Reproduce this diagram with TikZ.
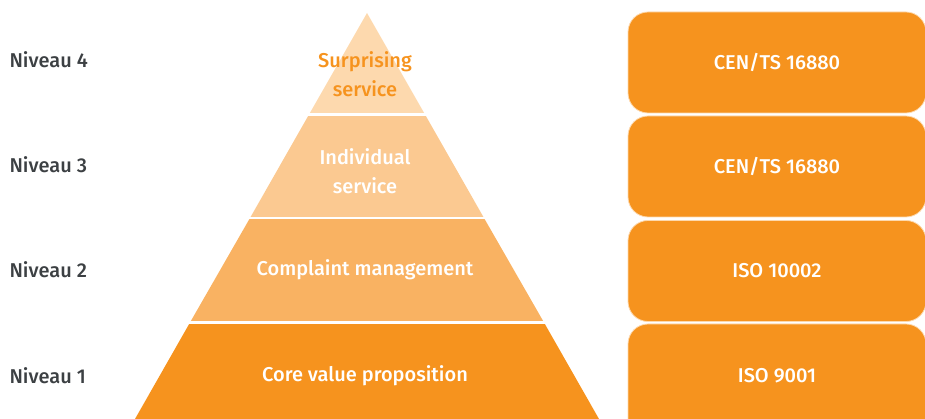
\documentclass[tikz,border=0pt]{standalone}
\usepackage{fontspec}
\setmainfont{Fira Sans}[UprightFont=* Medium]
\definecolor{lvlone}{RGB}{246,147,30}
\definecolor{lvltwo}{RGB}{249,178,98}
\definecolor{lvlthree}{RGB}{251,201,145}
\definecolor{lvlfour}{RGB}{253,217,174}
\definecolor{labelgray}{RGB}{60,64,67}

\begin{document}
\begin{tikzpicture}[x=1pt,y=1pt]

\tikzset{level/.style = {anchor=west,text=labelgray,font=\fontsize{20}{23}\selectfont}}
\tikzset{tier/.style = {align=center,text=white,font=\fontsize{20}{29}\selectfont}}
\tikzset{norm/.style = {shape=rectangle,rounded corners=20pt,fill=lvlone,draw=lvlfour,line width=0.8pt,
  minimum width=298pt,minimum height=101pt,text=white,font=\fontsize{20}{23}\selectfont}}
\clip (0,0) rectangle (925,419);
%pyramid bands
\fill[lvlone] (135,0) -- (599,0) -- (544,96.5) -- (190,96.5) -- cycle;
\fill[lvltwo] (190,96.5) -- (544,96.5) -- (484,201) -- (250,201) -- cycle;
\fill[lvlthree] (250,201) -- (484,201) -- (425,304.5) -- (309,304.5) -- cycle;
\fill[lvlfour] (309,304.5) -- (425,304.5) -- (367,406) -- cycle;
\foreach \y in {96.5,201,304.5}
  \draw[white,line width=2.5pt] (100,\y) -- (620,\y);
%levels
\node[level] (n4) at (6,359) {Niveau 4};
\node[level] (n3) at (6,254) {Niveau 3};
\node[level] (n2) at (6,149) {Niveau 2};
\node[level] (n1) at (6,43) {Niveau 1};
%tiers
\node[tier,text=lvlone] (t4) at (365,345) {Surprising\\service};
\node[tier] (t3) at (365,248) {Individual\\service};
\node[tier] (t2) at (365,149) {Complaint management};
\node[tier] (t1) at (365,43) {Core value proposition};
%norms
\node[norm] (s4) at (777,356.5) {CEN/TS 16880};
\node[norm] (s3) at (777,252.5) {CEN/TS 16880};
\node[norm] (s2) at (777,148) {ISO 10002};
\node[norm,minimum height=130pt] (s1) at (777,30) {};
\node[text=white,font=\fontsize{20}{23}\selectfont] (s1text) at (777,43) {ISO 9001};

\end{tikzpicture}
\end{document}
